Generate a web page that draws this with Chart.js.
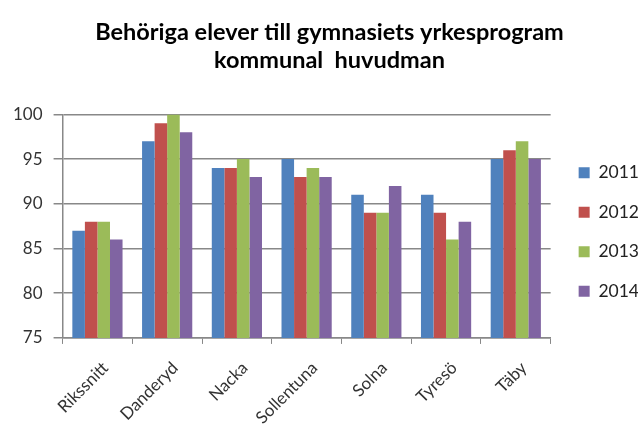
<!DOCTYPE html>
<html>
<head>
<meta charset="utf-8">
<script src="https://cdn.jsdelivr.net/npm/chart.js@4/dist/chart.umd.min.js"></script>
<style>
  html, body { margin: 0; padding: 0; background: #fff; overflow: hidden; }
  #wrap { width: 638px; height: 430px; overflow: hidden; }
</style>
</head>
<body>
<div id="wrap"><canvas id="chart" width="638" height="442"></canvas></div>
<script>
const categories = ["Rikssnitt", "Danderyd", "Nacka", "Sollentuna", "Solna", "Tyresö", "Täby"];
const years = ["2011", "2012", "2013", "2014"];
const values2011 = [87, 97, 94, 95, 91, 91, 95];
const values2012 = [88, 99, 94, 93, 89, 89, 96];
const values2013 = [88, 100, 95, 94, 89, 86, 97];
const values2014 = [86, 98, 93, 93, 92, 88, 95];
const colors = ["#4F81BD", "#C0504D", "#9BBB59", "#8064A2"];

const series = [values2011, values2012, values2013, values2014];
const font = "Lato, 'Open Sans', sans-serif";

// nudge legend and title a few px right after layout
const nudge = {
    id: 'nudge',
    afterLayout(chart) {
        if (chart.legend) {
            chart.legend.left += 6;
            chart.legend.right += 6;
        }
        if (chart.titleBlock) {
            chart.titleBlock.left += 7;
            chart.titleBlock.right += 7;
        }
    }
};

const ctx = document.getElementById('chart').getContext('2d');

const chart = new Chart(ctx, {
    type: 'bar',
    data: {
        labels: categories,
        datasets: series.map((vals, i) => ({
            label: years[i],
            data: vals,
            backgroundColor: colors[i],
            borderWidth: 0,
            categoryPercentage: 0.72,
            barPercentage: 1
        }))
    },
    options: {
        responsive: false,
        animation: false,
        layout: { padding: { top: 18, left: 2, right: -5, bottom: 0 } },
        plugins: {
            title: {
                display: true,
                text: ["Behöriga elever till gymnasiets yrkesprogram", "kommunal  huvudman"],
                font: { family: font, size: 23.5, weight: 'bold' },
                color: '#000',
                lineHeight: 1.42,
                padding: { top: 0, bottom: 40 }
            },
            legend: {
                position: 'right',
                align: 'center',
                title: {
                    display: true,
                    text: ' ',
                    font: { size: 1 },
                    padding: { top: 0, bottom: 3 }
                },
                labels: {
                    font: { family: font, size: 17.5 },
                    color: '#222',
                    boxWidth: 11,
                    boxHeight: 11,
                    padding: 22
                }
            },
            tooltip: { enabled: false }
        },
        scales: {
            x: {
                grid: {
                    drawOnChartArea: false,
                    drawTicks: true,
                    tickLength: 6,
                    color: '#888'
                },
                border: { color: '#888', width: 1.5 },
                ticks: {
                    minRotation: 45,
                    maxRotation: 45,
                    labelOffset: 8,
                    font: { family: font, size: 17 },
                    color: '#333',
                    padding: 14
                }
            },
            y: {
                min: 75,
                max: 100,
                ticks: {
                    stepSize: 5,
                    font: { family: font, size: 17 },
                    color: '#333',
                    padding: 11
                },
                grid: {
                    color: '#888',
                    lineWidth: 1.5,
                    tickLength: 9
                },
                border: { color: '#888', width: 1.5 }
            }
        }
    },
    plugins: [nudge]
});
</script>
</body>
</html>
